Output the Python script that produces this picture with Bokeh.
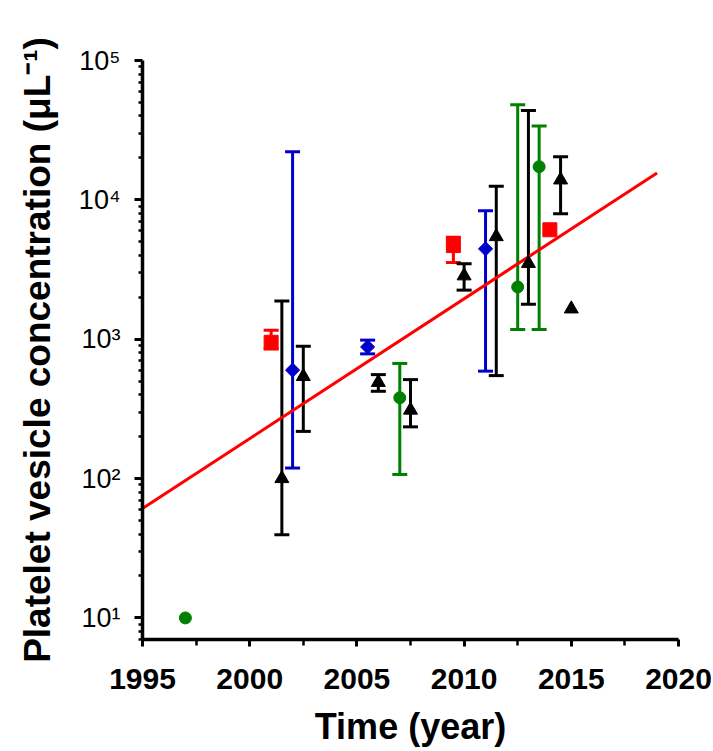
import math
from bokeh.plotting import figure
from bokeh.models import (ColumnDataSource, Whisker, TeeHead, FixedTicker,
                          CustomJSTickFormatter, Range1d)
from bokeh.embed import file_html
from bokeh.resources import INLINE

# ---- data ----
red_year = [2001, 2009.5, 2014]
red_val = [950, 4700, 6100]
red_lo = [850, 3550, None]
red_hi = [1160, 5400, None]

blue_year = [2002, 2005.5, 2011]
blue_val = [600, 880, 4450]
blue_lo = [119, 785, 590]
blue_hi = [22100, 985, 8350]

green_year = [1997, 2007, 2012.5, 2013.5]
green_val = [10, 380, 2370, 17300]
green_lo = [None, 107, 1175, 1175]
green_hi = [None, 670, 48200, 33900]

black_year = [2001.5, 2002.5, 2006, 2007.5, 2010, 2011.5, 2013, 2014.5, 2015]
black_val = [100, 540, 490, 310, 2850, 5450, 3500, 13900, 1650]
black_lo = [39.5, 218, 423, 235, 2250, 548, 1780, 7960, None]
black_hi = [1880, 890, 557, 513, 3480, 12500, 43700, 20400, None]

fit_year = [1995, 2019]
fit_val = [61, 15600]

x_ticks = [1995, 2000, 2005, 2010, 2015, 2020]
x_minor = [1997.5, 2002.5, 2007.5, 2012.5, 2017.5]
y_ticks = [10, 100, 1000, 10000, 100000]

FONT = "Liberation Sans"

p = figure(width=713, height=751, output_backend="svg", toolbar_location=None,
           y_axis_type="log", x_range=Range1d(1995, 2020), y_range=Range1d(7, 100000),
           min_border_left=142, min_border_right=35, min_border_top=60,
           min_border_bottom=112)
p.outline_line_color = None
p.xgrid.visible = False
p.ygrid.visible = False
p.background_fill_color = "white"
p.border_fill_color = "white"

# fit line
p.line(fit_year, fit_val, line_color="#ff0000", line_width=3)


def add_series(xs, ys, lo, hi, color, marker, size, angle=0):
    ex = [x for x, l in zip(xs, lo) if l is not None]
    el = [l for l in lo if l is not None]
    eh = [h for h in hi if h is not None]
    if ex:
        src = ColumnDataSource(dict(x=ex, lo=el, hi=eh))
        w = Whisker(source=src, base="x", lower="lo", upper="hi", dimension="height",
                    line_color=color, line_width=3,
                    upper_head=TeeHead(size=15, line_color=color, line_width=3),
                    lower_head=TeeHead(size=15, line_color=color, line_width=3))
        p.add_layout(w)
    p.scatter(xs, ys, marker=marker, size=size, angle=angle,
              fill_color=color, line_color=color)


add_series(red_year, red_val, red_lo, red_hi, "#ff0000", "square", 14)
add_series(blue_year, blue_val, blue_lo, blue_hi, "#0000cc", "square", 10, math.pi / 4)
add_series(green_year, green_val, green_lo, green_hi, "#008000", "circle", 12)
add_series(black_year, black_val, black_lo, black_hi, "#000000", "triangle", 14)

# axes
for ax in (p.xaxis[0], p.yaxis[0]):
    ax.axis_line_width = 3.5
    ax.axis_line_color = "black"
    ax.major_tick_line_width = 3
    ax.minor_tick_line_width = 2.5
    ax.major_tick_in = 0
    ax.minor_tick_in = 0
    ax.axis_label_text_font = FONT
    ax.axis_label_text_font_style = "bold"
    ax.axis_label_text_color = "black"
    ax.major_label_text_font = FONT
    ax.major_label_text_color = "black"

xa = p.xaxis[0]
xa.ticker = FixedTicker(ticks=x_ticks, minor_ticks=x_minor)
xa.major_tick_out = 7
xa.minor_tick_out = 6
xa.major_label_text_font_size = "30px"
xa.major_label_text_font_style = "bold"
xa.major_label_standoff = 22
xa.axis_label = "Time (year)"
xa.axis_label_text_font_size = "36px"
xa.axis_label_standoff = 14

ya = p.yaxis[0]
ya.ticker = FixedTicker(ticks=y_ticks,
                        minor_ticks=[t * m for t in [1] + y_ticks for m in range(2, 10)])
ya.major_tick_out = 8
ya.minor_tick_out = 4
ya.major_label_text_font_size = "27px"
ya.major_label_standoff = 14
ya.formatter = CustomJSTickFormatter(code="""
const sup = {"0":"\u2070","1":"\u00b9","2":"\u00b2","3":"\u00b3","4":"\u2074","5":"\u2075","6":"\u2076","7":"\u2077","8":"\u2078","9":"\u2079"};
const e = Math.round(Math.log10(tick));
return "10" + String(e).split("").map(c => sup[c]).join("");
""")
ya.axis_label = "Platelet vesicle concentration (\u03bcL\u207b\u00b9)"
ya.axis_label_text_font_size = "37px"
ya.axis_label_standoff = 18

open("out.html", "w").write(file_html(p, INLINE))
